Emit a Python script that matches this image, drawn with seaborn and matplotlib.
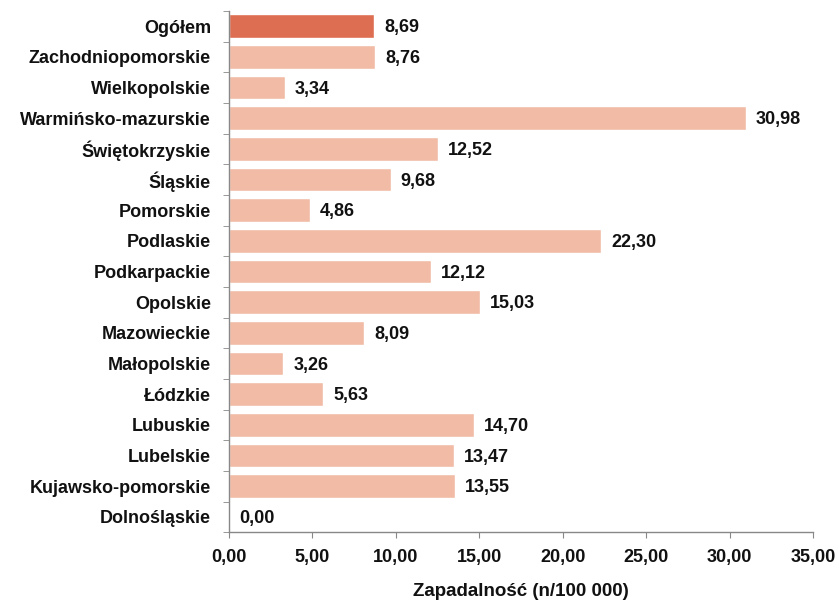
import matplotlib
matplotlib.use("Agg")
import matplotlib.pyplot as plt
import seaborn as sns
import pandas as pd
import numpy as np
from matplotlib.ticker import FixedLocator, FuncFormatter

regions = ["Ogółem", "Zachodniopomorskie", "Wielkopolskie", "Warmińsko-mazurskie",
           "Świętokrzyskie", "Śląskie", "Pomorskie", "Podlaskie", "Podkarpackie",
           "Opolskie", "Mazowieckie", "Małopolskie", "Łódzkie", "Lubuskie",
           "Lubelskie", "Kujawsko-pomorskie", "Dolnośląskie"]
values = [8.69, 8.76, 3.34, 30.98, 12.52, 9.68, 4.86, 22.30, 12.12,
          15.03, 8.09, 3.26, 5.63, 14.70, 13.47, 13.55, 0.00]
x_ticks = [0, 5, 10, 15, 20, 25, 30, 35]
x_label = "Zapadalność (n/100 000)"

sns.set_style("white")
plt.rcParams['font.family'] = ['Liberation Sans', 'DejaVu Sans']

df = pd.DataFrame({"region": regions, "value": values,
                   "kind": ["total"] + ["region"] * (len(regions) - 1)})

FS = 13

fig = plt.figure(figsize=(8.39, 6.02), dpi=100)
ax = fig.add_axes([0.273, 0.116, 0.696, 0.866])
sns.barplot(data=df, y="region", x="value", hue="kind", orient="h",
            palette={"total": "#DE6E52", "region": "#F1BBA5"},
            saturation=1, dodge=False, width=0.78, legend=False, ax=ax)

for i, v in enumerate(values):
    ax.text(v + 0.6, i + 0.05, f"{v:.2f}".replace(".", ","), va="center", ha="left",
            fontsize=FS, fontweight="bold", color="#111111")

ax.set_xlim(0, 35)
ax.set_ylim(len(regions) - 0.5, -0.5)
ax.xaxis.set_major_locator(FixedLocator(x_ticks))
ax.xaxis.set_major_formatter(FuncFormatter(lambda v, p: f"{v:.2f}".replace(".", ",")))
ax.set_xlabel(x_label, fontsize=FS + 0.5, fontweight="bold", labelpad=12, color="#111111")
ax.set_ylabel("")
for lab in ax.get_xticklabels() + ax.get_yticklabels():
    lab.set_fontweight("bold")
    lab.set_fontsize(FS)
    lab.set_color("#111111")

ax.yaxis.set_minor_locator(FixedLocator(np.arange(-0.5, len(regions), 1.0)))
ax.tick_params(axis="y", which="major", length=0, pad=13)
ax.tick_params(axis="y", which="minor", length=4, color="#888888", direction="out", left=True)
ax.tick_params(axis="x", which="major", length=4, color="#888888", direction="out", bottom=True, pad=8)

for s in ["top", "right"]:
    ax.spines[s].set_visible(False)
for s in ["left", "bottom"]:
    ax.spines[s].set_color("#888888")
    ax.spines[s].set_linewidth(1.0)

fig.savefig("out.png", dpi=100)
